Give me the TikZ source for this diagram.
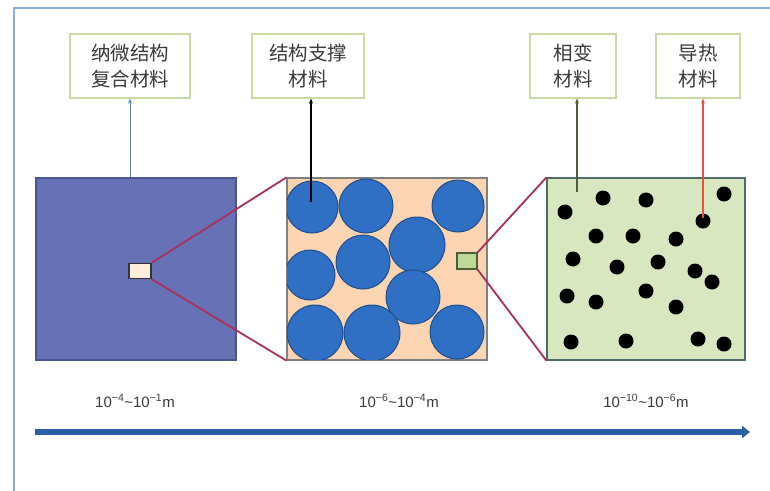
\documentclass[tikz,border=0pt]{standalone}
\usepackage{fontspec}
\setmainfont{Liberation Sans}
\newfontfamily\cjk{Noto Sans CJK SC}
\usetikzlibrary{arrows.meta}
\definecolor{frameblue}{HTML}{86B0DE}
\definecolor{boxedge}{HTML}{C9D9A6}
\definecolor{slate}{HTML}{6672B5}
\definecolor{slateedge}{HTML}{4A5590}
\definecolor{peach}{HTML}{FBD5B2}
\definecolor{ballblue}{HTML}{2F6FC4}
\definecolor{balledge}{HTML}{1F4E8C}
\definecolor{lightgreen}{HTML}{D8E7C0}
\definecolor{greenedge}{HTML}{4F6B6A}
\definecolor{zoomred}{HTML}{A8305A}
\definecolor{axisblue}{HTML}{2B5FA8}
\definecolor{txtgray}{HTML}{3A3A3A}
\definecolor{lineblue}{HTML}{5A86B8}
\definecolor{linegreen}{HTML}{4A5E3A}
\definecolor{linered}{HTML}{E2553A}
\definecolor{smallgreen}{HTML}{BFD897}
\tikzset{
  labelbox/.style={draw=boxedge, line width=1.2pt, fill=white, inner sep=0pt,
    minimum height=64pt, text=txtgray, font=\cjk\fontsize{19.5}{26}\selectfont, align=center},
  bigsq/.style={inner sep=0pt, minimum width=200pt, minimum height=182pt, line width=1.2pt},
  ball/.style={fill=ballblue, draw=balledge, line width=1pt},
  dot/.style={fill=black},
  zoomline/.style={draw=zoomred, line width=1.8pt},
  feed/.style={line width=#1, -{Stealth[length=5pt,width=4pt]}},
  scalelabel/.style={text=txtgray, font=\fontsize{15}{17}\selectfont}
}
\begin{document}
\begin{tikzpicture}[x=1pt,y=-1pt]
\useasboundingbox (0,0) rectangle (770,490);
\fill[white] (0,0) rectangle (770,490);
\draw[frameblue, line width=2.5pt] (14,495) -- (14,8) -- (775,8);

% label boxes
\node[labelbox, minimum width=120pt] (b1) at (130,66) {纳微结构\\复合材料};
\node[labelbox, minimum width=112pt] (b2) at (308,66) {结构支撑\\材料};
\node[labelbox, minimum width=86pt] (b3) at (573,66) {相变\\材料};
\node[labelbox, minimum width=84pt] (b4) at (698,66) {导热\\材料};

% big squares
\node[bigsq, fill=slate, draw=slateedge] (s1) at (136,269) {};
\node[bigsq, fill=peach, draw=gray] (s2) at (387,269) {};
\node[bigsq, fill=lightgreen, draw=greenedge, minimum width=198pt] (s3) at (646,269) {};

% balls
\begin{scope}
\clip (s2.north west) rectangle (s2.south east);
\foreach \x/\y/\r in {312/207/26, 366/206/27, 458/206/26, 417/245/28, 363/262/27,
  310/275/25, 413/297/27, 315/333/28, 372/333/28, 457/332/27}
  \draw[ball] (\x,\y) circle (\r);
\end{scope}
\draw[gray, line width=1.2pt] (s2.north west) rectangle (s2.south east);

% dots
\foreach \x/\y in {565/212, 603/198, 646/200, 724/194, 703/221, 596/236, 633/236,
  676/239, 573/259, 617/267, 658/262, 695/271, 712/282, 567/296, 596/302, 646/291,
  676/307, 571/342, 626/341, 698/339, 724/344}
  \fill[dot] (\x,\y) circle (7.5);

% small zoom rectangles
\node[draw=black!80, fill=orange!15, line width=1.2pt, minimum width=22pt, minimum height=15pt, inner sep=0pt] (r1) at (140,271) {};
\node[draw=linegreen, fill=smallgreen, line width=1.2pt, minimum width=20pt, minimum height=16pt, inner sep=0pt] (r2) at (467,261) {};

% zoom lines
\draw[zoomline] (r1.north east) -- (s2.north west);
\draw[zoomline] (r1.south east) -- (s2.south west);
\draw[zoomline] (r2.north east) -- (s3.north west);
\draw[zoomline] (r2.south east) -- (s3.south west);

% feed lines
\coordinate (p2) at (311,202);
\coordinate (p3) at (577,192);
\coordinate (p4) at (703,218);
\draw[feed=1pt, lineblue] (s1.north -| b1.south) -- (b1.south);
\draw[feed=2.8pt, black] (p2) -- (p2 |- b2.south);
\draw[feed=2pt, linegreen] (p3) -- (p3 |- b3.south);
\draw[feed=1.5pt, linered] (p4) -- (p4 |- b4.south);

% scale labels
\node[scalelabel] (t1) at (135,401) {10\textsuperscript{−4}\textasciitilde10\textsuperscript{−1}m};
\node[scalelabel] (t2) at (399,401) {10\textsuperscript{−6}\textasciitilde10\textsuperscript{−4}m};
\node[scalelabel] (t3) at (646,401) {10\textsuperscript{−10}\textasciitilde10\textsuperscript{−6}m};

% axis arrow
\coordinate (a0) at (35,432);
\coordinate (a1) at (750,432);
\draw[axisblue, line width=6pt, -{Triangle[length=8pt,width=12pt]}] (a0) -- (a1);
\end{tikzpicture}
\end{document}
